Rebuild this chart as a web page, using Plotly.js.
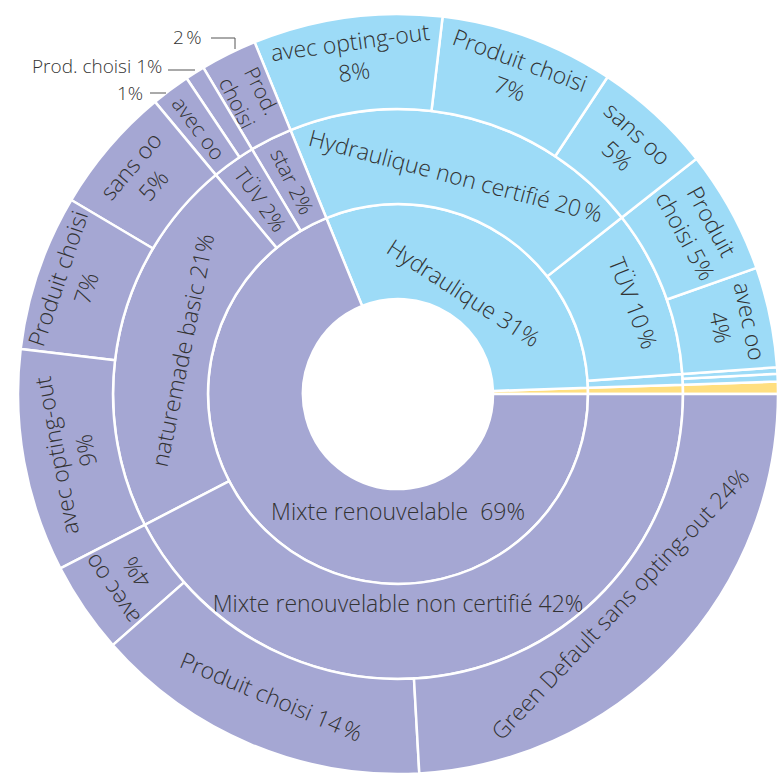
<!DOCTYPE html>
<html>
<head>
<meta charset="utf-8">
<script src="https://cdn.plot.ly/plotly-3.0.1.min.js"></script>
<style>
html,body{margin:0;padding:0;overflow:hidden;background:#fff;}
#chart{width:779px;height:780px;}
</style>
</head>
<body>
<div id="chart"></div>
<script>
// ---- data (values in % of total) ----
var ids = [
  'root', 'autre', 'hydro', 'mixte',
  'autre_2', 'autre_3',
  'h_sl', 'h_tuv', 'h_nc',
  'h_sl_b', 'h_sl_a',
  'h_tuv_oo', 'h_tuv_pc',
  'h_nc_soo', 'h_nc_pc', 'h_nc_oo',
  'm_star', 'm_tuv', 'm_nb', 'm_nc',
  'm_star_pc',
  'm_tuv_pc', 'm_tuv_oo',
  'm_nb_soo', 'm_nb_pc', 'm_nb_oo',
  'm_nc_oo', 'm_nc_pc', 'm_nc_gd'
];
var labels = [
  '', 'Autres', 'Hydraulique', 'Mixte renouvelable',
  'Autres', 'Autres',
  'Hydraulique autre', 'TÜV', 'Hydraulique non certifié',
  'autre', 'autre',
  'avec oo', 'Produit choisi',
  'sans oo', 'Produit choisi', 'avec opting-out',
  'star', 'TÜV', 'naturemade basic', 'Mixte renouvelable non certifié',
  'Prod. choisi',
  'Prod. choisi', 'avec oo',
  'sans oo', 'Produit choisi', 'avec opting-out',
  'avec oo', 'Produit choisi', 'Green Default sans opting-out'
];
var parents = [
  '', 'root', 'root', 'root',
  'autre', 'autre_2',
  'hydro', 'hydro', 'hydro',
  'h_sl', 'h_sl',
  'h_tuv', 'h_tuv',
  'h_nc', 'h_nc', 'h_nc',
  'mixte', 'mixte', 'mixte', 'mixte',
  'm_star',
  'm_tuv', 'm_tuv',
  'm_nb', 'm_nb', 'm_nb',
  'm_nc', 'm_nc', 'm_nc'
];
var values = [
  0, 0, 0, 0,
  0, 0.52,
  0, 0, 0,
  0.33, 0.27,
  4.26, 5.24,
  5.08, 7.42, 8.03,
  0, 0, 0, 0,
  2.40,
  0.83, 1.65,
  5.43, 6.64, 9.47,
  3.90, 14.40, 24.10
];
// labels drawn inside sectors by the sunburst, tangential orientation
var tanText = [
  '', '', 'Hydraulique 31%', 'Mixte renouvelable  69%',
  '', '',
  '', 'TÜV 10\u202F%', 'Hydraulique non certifié 20\u202F%',
  '', '',
  'avec oo<br>4%', 'Produit<br>choisi 5%',
  'sans oo<br>5%', 'Produit choisi<br>7%', 'avec opting-out<br>8%',
  '', '', 'naturemade basic 21%', 'Mixte renouvelable non certifié 42%',
  '',
  '', '',
  'sans oo<br>5%', 'Produit choisi<br>7%', '',
  '', 'Produit choisi 14\u202F%', 'Green Default sans opting-out 24%'
];
// labels placed along the radius of narrow sectors, or kept facing outward
var rotatedLabels = [
  {id: 'm_star', text: 'star 2%', mode: 'radial'},
  {id: 'm_tuv', text: 'TÜV 2%', mode: 'radial'},
  {id: 'm_star_pc', text: 'Prod.<br>choisi', mode: 'radial'},
  {id: 'm_tuv_oo', text: 'avec oo', mode: 'radial'},
  {id: 'm_nb_oo', text: 'avec opting-out<br>9%', mode: 'outward'},
  {id: 'm_nc_oo', text: 'avec oo<br>4%', mode: 'outward'}
];
// outside callouts
var callouts = [
  {text: '2\u202F%', tx: 203, ty: 37, line: [[211, 38], [235, 38], [235, 49]]},
  {text: 'Prod. choisi 1%', tx: 163, ty: 66, line: [[168, 70], [195, 70]]},
  {text: '1%', tx: 144, ty: 93, line: [[150, 93], [166, 93]]}
];

var BLUE = '#9ddbf7', PURPLE = '#a5a7d3', YELLOW = '#ffdf80', WHITE = '#ffffff';
var colors = ids.map(function (id) {
  if (id === 'root') return WHITE;
  if (id.indexOf('autre') === 0) return YELLOW;
  if (id.charAt(0) === 'h') return BLUE;
  return PURPLE;
});

var FONT = '"Open Sans", Roboto, sans-serif';
var FS = 23;
var TXT = '#333333';
var L = 18, T = 14, SIZE = 760, R = SIZE / 2, CX = L + R, CY = T + R;
function px(x) { return (x - L) / SIZE; }
function py(y) { return (T + SIZE - y) / SIZE; }

// sector geometry from the data (same rules as the sunburst: counter-clockwise from 3 o'clock)
function subtotal(id) {
  var i = ids.indexOf(id), s = values[i];
  parents.forEach(function (p, j) { if (p === id) s += subtotal(ids[j]); });
  return s;
}
function sectorInfo(id) {
  var total = subtotal('root');
  var chain = [], cur = id;
  while (cur) { chain.unshift(cur); cur = parents[ids.indexOf(cur)]; }
  var start = 0;
  for (var k = 1; k < chain.length; k++) {
    var par = chain[k - 1];
    for (var j = 0; j < ids.length; j++) {
      if (parents[j] === par) {
        if (ids[j] === chain[k]) break;
        start += subtotal(ids[j]);
      }
    }
  }
  var mid = (start + subtotal(id) / 2) / total * 360;
  return {mid: mid, depth: chain.length - 1};
}

var t1 = {
  type: 'sunburst',
  ids: ids, labels: labels, parents: parents, values: values,
  branchvalues: 'remainder',
  sort: false,
  rotation: 0,
  text: tanText,
  textinfo: 'text',
  hoverinfo: 'none',
  insidetextorientation: 'tangential',
  insidetextfont: {family: FONT, size: FS, color: TXT, weight: 300},
  leaf: {opacity: 1},
  marker: {colors: colors, line: {color: WHITE, width: 2.5}}
};

var annotations = callouts.map(function (c) {
  return {text: c.text, xref: 'paper', yref: 'paper', x: px(c.tx), y: py(c.ty),
          xanchor: 'right', yanchor: 'middle', showarrow: false, borderpad: 0,
          font: {family: FONT, size: 19, color: TXT, weight: 300}};
});
rotatedLabels.forEach(function (o) {
  var s = sectorInfo(o.id);
  var r = (s.depth + 0.5) * R / 4;
  var a = s.mid * Math.PI / 180;
  annotations.push({
    text: o.text, xref: 'paper', yref: 'paper',
    x: px(CX + r * Math.cos(a)), y: py(CY - r * Math.sin(a)),
    xanchor: 'center', yanchor: 'middle', showarrow: false, borderpad: 0,
    textangle: o.mode === 'radial' ? 180 - s.mid : 90 - s.mid,
    font: {family: FONT, size: o.mode === 'radial' ? 21 : FS, color: TXT, weight: 300}
  });
});
var shapes = callouts.map(function (c) {
  var d = c.line.map(function (p, i) { return (i ? 'L' : 'M') + px(p[0]) + ',' + py(p[1]); }).join(' ');
  return {type: 'path', xref: 'paper', yref: 'paper', path: d, line: {color: '#555', width: 1}};
});

var layout = {
  width: 779, height: 780,
  margin: {l: L, r: 1, t: T, b: 6},
  paper_bgcolor: WHITE,
  showlegend: false,
  uniformtext: {minsize: FS, mode: 'show'},
  annotations: annotations,
  shapes: shapes
};
Plotly.newPlot('chart', [t1], layout, {displayModeBar: false, staticPlot: true});
</script>
</body>
</html>
